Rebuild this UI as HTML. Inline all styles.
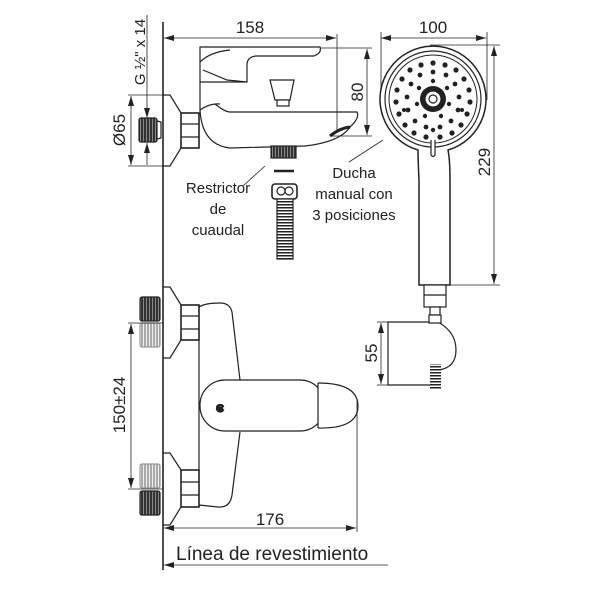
<!DOCTYPE html>
<html><head><meta charset="utf-8"><style>
html,body{margin:0;padding:0;background:#fff;width:600px;height:601px;overflow:hidden}
svg{display:block}
text{font-family:"Liberation Sans",sans-serif;fill:#222}
</style></head><body>
<svg width="600" height="601" viewBox="0 0 600 601" xmlns="http://www.w3.org/2000/svg">
<defs>
<marker id="a" markerWidth="10" markerHeight="6" refX="10" refY="3" orient="auto-start-reverse" markerUnits="userSpaceOnUse"><path d="M0,0 L10,3 L0,6 z" fill="#222"/></marker>
<pattern id="th" width="3" height="4" patternUnits="userSpaceOnUse"><rect width="3" height="4" fill="#333"/><rect x="2" width="1" height="4" fill="#888"/></pattern>
<pattern id="thl" width="3" height="4" patternUnits="userSpaceOnUse"><rect width="3" height="4" fill="#aaa"/><rect x="2" width="1" height="4" fill="#eee"/></pattern>
<pattern id="hz" width="4" height="3" patternUnits="userSpaceOnUse"><rect width="4" height="3" fill="#fff"/><rect width="4" height="1.5" fill="#222"/></pattern>
</defs>
<g stroke="#222" fill="none" stroke-width="1.2">
<line x1="163" y1="22" x2="163" y2="570" stroke-width="1.6"/>
<line x1="164" y1="38" x2="336" y2="38" stroke-width="0.8" marker-start="url(#a)" marker-end="url(#a)"/>
<line x1="337" y1="34" x2="337" y2="132" stroke-width="0.8"/>
<line x1="310" y1="48" x2="372" y2="48" stroke-width="0.8"/>
<line x1="330" y1="136" x2="372" y2="136" stroke-width="0.8"/>
<line x1="367" y1="49" x2="367" y2="135" stroke-width="0.8" marker-start="url(#a)" marker-end="url(#a)"/>
<line x1="147" y1="15" x2="147" y2="118" stroke-width="0.8" marker-end="url(#a)"/>
<line x1="147" y1="165" x2="147" y2="143" stroke-width="0.8" marker-end="url(#a)"/>
<line x1="128" y1="95" x2="163" y2="95" stroke-width="0.8"/>
<line x1="128" y1="166" x2="163" y2="166" stroke-width="0.8"/>
<line x1="131" y1="96" x2="131" y2="165" stroke-width="0.8" marker-start="url(#a)" marker-end="url(#a)"/>
<path d="M163,95 L170,95 L181,113 M181,148 L170,166 L163,166"/>
<rect x="181" y="113" width="18" height="35" fill="#fff" stroke-width="1.6"/>
<line x1="181" y1="124" x2="199" y2="124"/><line x1="181" y1="137" x2="199" y2="137"/>
<rect x="139" y="118" width="18" height="24" rx="2" fill="url(#th)" stroke="#222"/>
<path d="M157,121 L161,122 L161,138 L157,139"/>
<path d="M200,47 L320,47 Q322,53 314,56 L256,56 Q247,57 247,65 L247,82 L200,82 Z" fill="#fff"/>
<path d="M203,70 L227,80 L247,82"/>
<path d="M200,62 Q210,52 230,50"/>
<path d="M200,82 L200,110 Q210,103 220,104"/>
<path d="M200,110 Q202,145 230,148 L305,146 Q340,142 350,127 Q360,118 357,112 L230,112 Q225,112 215,104"/>
<path d="M330,136 Q340,128 350,127" stroke-width="3"/>
<path d="M270,80 L294,80 L290,100 L275,100 Z" fill="#fff"/>
<rect x="277" y="100" width="12" height="6" fill="#fff"/>
<rect x="271" y="146" width="25" height="12" fill="url(#th)"/>
<line x1="274" y1="171" x2="294" y2="171" stroke-width="2.5"/>
<rect x="272" y="184" width="25" height="15" rx="3" fill="#fff" stroke-width="1.6"/>
<circle cx="281" cy="191" r="4"/><circle cx="289" cy="191" r="4"/>
<rect x="277" y="199" width="16" height="60" fill="url(#hz)"/>
<line x1="243" y1="186" x2="265" y2="166" stroke-width="0.8"/>
<line x1="349" y1="162" x2="383" y2="140" stroke-width="0.8"/>
<line x1="381" y1="38" x2="486" y2="38" stroke-width="0.8" marker-start="url(#a)" marker-end="url(#a)"/>
<line x1="381" y1="32" x2="381" y2="100" stroke-width="0.8"/>
<line x1="487" y1="32" x2="487" y2="100" stroke-width="0.8"/>
<line x1="430" y1="45" x2="500" y2="45" stroke-width="0.8"/>
<line x1="450" y1="285" x2="500" y2="285" stroke-width="0.8"/>
<line x1="494" y1="46" x2="494" y2="284" stroke-width="0.8" marker-start="url(#a)" marker-end="url(#a)"/>
<path d="M418,150 A53,53 0 1 1 448,150 Q450,160 450,180 L450,285 L419,285 L419,180 Q418,160 418,150 Z" fill="#fff" stroke-width="1.5"/>
<circle cx="433" cy="99" r="48"/>
<circle cx="433" cy="99" r="44" stroke-width="1"/>
<circle cx="433" cy="99" r="13" fill="#222" stroke="none"/>
<circle cx="433" cy="99" r="8" fill="#fff" stroke="#222"/>
<circle cx="433" cy="99" r="4" fill="#fff" stroke="#222"/>
<path d="M431,140 L431,155 Q433,158 435,155 L435,140" fill="#fff"/>
<rect x="424" y="285" width="22" height="22" fill="#fff"/>
<line x1="424" y1="295" x2="446" y2="295"/>
<rect x="430" y="307" width="10" height="8" fill="#fff"/>
<path d="M388,322 L438,322 Q456,332 456,350 Q456,368 438,370 Q434,375 434,385 L388,385 Z" fill="#fff"/>
<rect x="429" y="315" width="12" height="8" fill="#fff"/>
<rect x="430" y="364" width="11" height="26" fill="url(#hz)" stroke="none"/>
<line x1="377" y1="322" x2="388" y2="322" stroke-width="0.8"/>
<line x1="377" y1="385" x2="388" y2="385" stroke-width="0.8"/>
<line x1="381" y1="323" x2="381" y2="384" stroke-width="0.8" marker-start="url(#a)" marker-end="url(#a)"/>
<path d="M163,287 L170,287 L181,305 M181,340 L170,358 L163,358"/>
<path d="M163,453 L170,453 L181,470 M181,507 L170,525 L163,525"/>
<rect x="181" y="305" width="18" height="35" fill="#fff" stroke-width="1.6"/>
<line x1="181" y1="316" x2="199" y2="316"/><line x1="181" y1="329" x2="199" y2="329"/>
<rect x="181" y="470" width="18" height="37" fill="#fff" stroke-width="1.6"/>
<line x1="181" y1="482" x2="199" y2="482"/><line x1="181" y1="495" x2="199" y2="495"/>
<rect x="140" y="297" width="20" height="24" rx="2" fill="url(#th)"/>
<rect x="140" y="323" width="20" height="24" rx="2" fill="url(#thl)" stroke="#999"/>
<rect x="140" y="464" width="20" height="24" rx="2" fill="url(#thl)" stroke="#999"/>
<rect x="140" y="491" width="20" height="24" rx="2" fill="url(#th)"/>
<path d="M199,307 Q205,303 220,303 Q230,303 232,312 L240,380 M240,432 L232,495 Q230,508 218,507 L199,505"/>
<line x1="199" y1="340" x2="199" y2="470"/>
<rect x="200" y="380" width="125" height="51" rx="25" fill="#fff"/>
<path d="M318,383 Q358,383 358,406 Q358,429 318,428" fill="#fff"/>
<line x1="318" y1="383" x2="318" y2="428"/>
<text x="216" y="412" font-size="11" style="font-weight:bold">₢</text>
<line x1="128" y1="323" x2="163" y2="323" stroke-width="0.8"/>
<line x1="128" y1="489" x2="163" y2="489" stroke-width="0.8"/>
<line x1="131" y1="324" x2="131" y2="488" stroke-width="0.8" marker-start="url(#a)" marker-end="url(#a)"/>
<line x1="357" y1="400" x2="357" y2="532" stroke-width="0.8"/>
<line x1="164" y1="528" x2="356" y2="528" stroke-width="0.8" marker-start="url(#a)" marker-end="url(#a)"/>
<line x1="164" y1="565" x2="388" y2="565" stroke-width="0.8" marker-start="url(#a)"/>
</g>
<g fill="#222">
<circle cx="433" cy="63" r="2.6"/><circle cx="445" cy="65" r="2.6"/><circle cx="421" cy="65" r="2.6"/><circle cx="456" cy="70" r="2.6"/><circle cx="410" cy="70" r="2.6"/>
<circle cx="464" cy="79" r="2.6"/><circle cx="402" cy="79" r="2.6"/><circle cx="469" cy="90" r="2.6"/><circle cx="397" cy="90" r="2.6"/>
<circle cx="470" cy="102" r="2.6"/><circle cx="396" cy="102" r="2.6"/><circle cx="467" cy="114" r="2.6"/><circle cx="399" cy="114" r="2.6"/>
<circle cx="461" cy="125" r="2.6"/><circle cx="405" cy="125" r="2.6"/><circle cx="452" cy="133" r="2.6"/><circle cx="414" cy="133" r="2.6"/><circle cx="440" cy="137" r="2.6"/><circle cx="426" cy="137" r="2.6"/>
<circle cx="433" cy="72" r="2.4"/><circle cx="446" cy="75" r="2.4"/><circle cx="420" cy="75" r="2.4"/><circle cx="455" cy="84" r="2.4"/><circle cx="411" cy="84" r="2.4"/>
<circle cx="459" cy="97" r="2.4"/><circle cx="407" cy="97" r="2.4"/><circle cx="458" cy="110" r="2.4"/><circle cx="408" cy="110" r="2.4"/>
<circle cx="451" cy="121" r="2.4"/><circle cx="415" cy="121" r="2.4"/><circle cx="440" cy="127" r="2.4"/><circle cx="426" cy="127" r="2.4"/>
<circle cx="433" cy="81" r="2.2"/><circle cx="447" cy="88" r="2.2"/><circle cx="419" cy="88" r="2.2"/><circle cx="449" cy="104" r="2.2"/><circle cx="417" cy="104" r="2.2"/><circle cx="441" cy="116" r="2.2"/><circle cx="425" cy="116" r="2.2"/>
<circle cx="462" cy="110" r="2"/><circle cx="404" cy="110" r="2"/><circle cx="433" cy="130" r="2.2"/>
</g>
<g font-size="17">
<text x="250" y="33" text-anchor="middle">158</text>
<text x="433" y="33" text-anchor="middle">100</text>
<text x="270" y="525" text-anchor="middle">176</text>
<text transform="translate(363,92) rotate(-90)" text-anchor="middle">80</text>
<text transform="translate(125,130) rotate(-90)" text-anchor="middle">Ø65</text>
<text transform="translate(490,162) rotate(-90)" text-anchor="middle">229</text>
<text transform="translate(377,353) rotate(-90)" text-anchor="middle">55</text>
<text transform="translate(125,405) rotate(-90)" text-anchor="middle">150±24</text>
<text transform="translate(145,52) rotate(-90)" text-anchor="middle" font-size="15">G ½" x 14</text>
</g>
<g font-size="15" text-anchor="middle">
<text x="218" y="193">Restrictor</text><text x="218" y="214">de</text><text x="218" y="235">cuaudal</text>
<text x="354" y="178">Ducha</text><text x="354" y="199">manual con</text><text x="354" y="220">3 posiciones</text>
</g>
<text x="176" y="560" font-size="19">Línea de revestimiento</text>
</svg>
</body></html>
